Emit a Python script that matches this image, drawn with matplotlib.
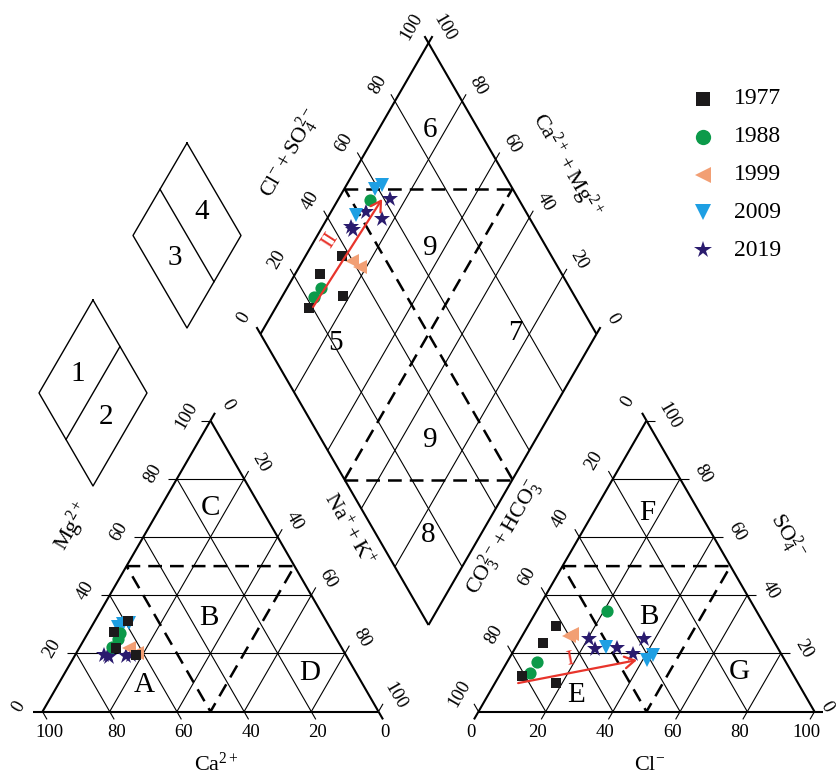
import math
import matplotlib
matplotlib.use('Agg')
import matplotlib.pyplot as plt

plt.rcParams['font.family'] = ['Liberation Serif', 'DejaVu Serif']
plt.rcParams['mathtext.fontset'] = 'custom'
plt.rcParams['mathtext.rm'] = 'Liberation Serif'
plt.rcParams['mathtext.it'] = 'Liberation Serif:italic'
plt.rcParams['mathtext.bf'] = 'Liberation Serif:bold'

# ---------------- sample chemistry (meq %) ----------------
years = ['1977', '1988', '1999', '2009', '2019']

ca_1977 = [59.0, 62.5, 67.0, 65.1]
mg_1977 = [31.0, 19.5, 22.0, 27.4]
nak_1977 = [10.0, 18.0, 11.0, 7.5]
hco3_1977 = [81.0, 69.0, 62.2, 72.0]
so4_1977 = [12.2, 23.6, 29.5, 10.0]
cl_1977 = [6.8, 7.4, 8.3, 18.0]

ca_1988 = [68.3, 65.0, 63.5]
mg_1988 = [22.2, 25.0, 27.0]
nak_1988 = [9.5, 10.0, 9.5]
hco3_1988 = [77.9, 74.1, 44.4]
so4_1988 = [13.3, 17.0, 34.6]
cl_1988 = [8.8, 8.9, 21.0]

ca_1999 = [63.3, 62.0]
mg_1999 = [21.9, 20.0]
nak_1999 = [14.8, 18.0]
hco3_1999 = [60.2, 59.0]
so4_1999 = [26.0, 26.5]
cl_1999 = [13.8, 14.5]

ca_2009 = [63.0, 61.0, 59.0]
mg_2009 = [29.0, 30.0, 30.5]
nak_2009 = [8.0, 9.0, 10.5]
hco3_2009 = [51.0, 41.0, 38.3]
so4_2009 = [22.2, 17.7, 19.5]
cl_2009 = [26.8, 41.3, 42.2]

ca_2019 = [72.0, 70.8, 70.8, 64.0, 65.5]
mg_2019 = [19.5, 19.5, 18.8, 19.5, 19.0]
nak_2019 = [8.5, 9.7, 10.4, 16.5, 15.5]
hco3_2019 = [54.6, 54.6, 47.8, 44.1, 38.2]
so4_2019 = [25.0, 21.5, 21.9, 19.8, 25.0]
cl_2019 = [20.4, 23.9, 30.3, 36.1, 36.8]

# evolution trends: anion triangle (I) and diamond (II)
trend1_so4 = [9.8, 17.7]
trend1_cl = [6.9, 38.3]
trend2_anion = [20.3, 59.4]     # Cl + SO4
trend2_cation = [89.0, 87.0]    # Ca + Mg

ticks = [0, 20, 40, 60, 80, 100]

samples = {
    '1977': (ca_1977, mg_1977, nak_1977, hco3_1977, so4_1977, cl_1977),
    '1988': (ca_1988, mg_1988, nak_1988, hco3_1988, so4_1988, cl_1988),
    '1999': (ca_1999, mg_1999, nak_1999, hco3_1999, so4_1999, cl_1999),
    '2009': (ca_2009, mg_2009, nak_2009, hco3_2009, so4_2009, cl_2009),
    '2019': (ca_2019, mg_2019, nak_2019, hco3_2019, so4_2019, cl_2019),
}

styles = {
    '1977': dict(marker='s', color='#1c1a1b', ms=7.8, lms=9.5, z=7),
    '1988': dict(marker='o', color='#0c9a4a', ms=8.8, lms=11.0, z=6),
    '1999': dict(marker='<', color='#f29f74', ms=10.5, lms=11.0, z=5),
    '2009': dict(marker='v', color='#1e9fe3', ms=10.5, lms=11.0, z=4),
    '2019': dict(marker='*', color='#2a1b6e', ms=12.0, lms=13.0, z=3),
}

# ---------------- layout (pixel space) ----------------
W, H = 837, 777
SIDE = 336.0
GAP = 100.0
SQ = math.sqrt(3) / 2
HT = SIDE * SQ
BX, BY = 428.5, 625.0                 # lower vertex of the diamond
BASE_Y = BY + GAP / 2 * math.sqrt(3)
CAT_X0 = BX - GAP / 2 - SIDE
AN_X0 = BX + GAP / 2

fig = plt.figure(figsize=(W / 100, H / 100), dpi=100)
ax = fig.add_axes([0, 0, 1, 1])
ax.set_xlim(0, W)
ax.set_ylim(H, 0)
ax.axis('off')

LW_OUT = 1.5
LW_IN = 0.8
TICK = 9.0
NUM_FS = 13.5
ZONE_FS = 21
TITLE_FS = 16


def tri_xy(x0, top, right):
    return (x0 + SIDE * (right + top / 2) / 100, BASE_Y - HT * top / 100)


def dia_xy(a, c):
    return (BX + 0.5 * SIDE * (a - c) / 100, BY - HT * (a + c) / 100)


def seg(p, q, lw, **kw):
    ax.plot([p[0], q[0]], [p[1], q[1]], color='black', lw=lw,
            solid_capstyle='butt', zorder=1, **kw)


def tick_label(p, d, off, rot, text, ext=TICK, lw=LW_IN):
    seg(p, (p[0] + d[0] * ext, p[1] + d[1] * ext), lw)
    tx = min(p[0] + off[0], W - 11)
    ax.text(tx, p[1] + off[1], text, fontsize=NUM_FS,
            rotation=rot, ha='center', va='center', rotation_mode='anchor')


def dashed(points):
    xs = [p[0] for p in points]
    ys = [p[1] for p in points]
    ax.plot(xs, ys, color='black', lw=1.8, ls=(0, (5.5, 3.2)), zorder=2)


# ---------------- cation triangle ----------------
C = lambda t, r: tri_xy(CAT_X0, t, r)
for v in ticks:
    lw = LW_OUT if v == 0 else LW_IN
    if v < 100:
        seg(C(v, 0), C(v, 100 - v), lw)
        seg(C(0, v), C(100 - v, v), lw)
        seg(C(100 - v, 0), C(0, 100 - v), lw)
    tick_label(C(v, 0), (-1, 0), (-24, -5), 60, str(v), lw=lw)
    tick_label(C(100 - v, v), (0.5, -SQ), (17, -16), -60, str(v), lw=lw)
    tick_label(C(0, 100 - v), (0.5, SQ), (6.5, 21), 0, str(v), lw=lw)

dashed([C(50, 0), C(50, 50), C(0, 50), C(50, 0)])

# ---------------- anion triangle ----------------
A = lambda t, r: tri_xy(AN_X0, t, r)
for v in ticks:
    lw = LW_OUT if v == 0 else LW_IN
    if v < 100:
        seg(A(v, 0), A(v, 100 - v), lw)
        seg(A(0, v), A(100 - v, v), lw)
        seg(A(100 - v, 0), A(0, 100 - v), lw)
    tick_label(A(v, 100 - v), (1, 0), (23, -5), -60, str(v), lw=lw)
    tick_label(A(0, v), (-0.5, SQ), (-8, 21), 0, str(v), lw=lw)
    tick_label(A(100 - v, 0), (-0.5, -SQ), (-18.5, -18.5), 60, str(v), lw=lw)

dashed([A(50, 0), A(50, 50), A(0, 50), A(50, 0)])

# ---------------- diamond ----------------
for v in ticks:
    lw = LW_OUT if v in (0, 100) else LW_IN
    seg(dia_xy(v, 0), dia_xy(v, 100), lw)
    seg(dia_xy(0, v), dia_xy(100, v), lw)
    tick_label(dia_xy(v, 100), (-0.5, -SQ), (-17, -16.5), 60, str(v), ext=8, lw=lw)
    tick_label(dia_xy(100, v), (0.5, -SQ), (16, -15.5), -60, str(v), ext=8, lw=lw)

dashed([dia_xy(50, 100), dia_xy(100, 50)])
dashed([dia_xy(0, 50), dia_xy(50, 0)])
dashed([dia_xy(50, 0), dia_xy(50, 100)])
dashed([dia_xy(0, 50), dia_xy(100, 50)])

# ---------------- zone labels ----------------
for s, t, r in [('C', 70.0, 15.1), ('B', 32.2, 33.5), ('A', 9.2, 25.6), ('D', 13.3, 73.0)]:
    x, y = C(t, r)
    ax.text(x, y, s, fontsize=ZONE_FS, ha='center', va='center')
for s, t, r in [('F', 68.3, 16.0), ('B', 32.5, 34.5), ('E', 5.7, 26.2), ('G', 13.6, 70.7)]:
    x, y = A(t, r)
    ax.text(x, y, s, fontsize=ZONE_FS, ha='center', va='center')
for s, a, c in [('6', 85.5, 84.6), ('9', 65.2, 64.4), ('5', 20.9, 76.0),
                ('7', 75.9, 24.4), ('9', 32.2, 31.4), ('8', 15.3, 15.6)]:
    x, y = dia_xy(a, c)
    ax.text(x, y, s, fontsize=ZONE_FS, ha='center', va='center')

# ---------------- axis titles ----------------
ax.text(216, 764, r'$\mathrm{Ca^{2+}}$', fontsize=TITLE_FS, ha='center', va='center')
ax.text(650, 765, r'$\mathrm{Cl^{-}}$', fontsize=TITLE_FS, ha='center', va='center')
ax.text(73, 527, r'$\mathrm{Mg^{2+}}$', fontsize=TITLE_FS, ha='center', va='center',
        rotation=60, rotation_mode='anchor')
ax.text(348, 530, r'$\mathrm{Na^{+}+K^{+}}$', fontsize=TITLE_FS, ha='center', va='center',
        rotation=-60, rotation_mode='anchor')
ax.text(504, 537, r'$\mathrm{CO_3^{2-}+HCO_3^{-}}$', fontsize=TITLE_FS, ha='center',
        va='center', rotation=60, rotation_mode='anchor')
ax.text(788, 536, r'$\mathrm{SO_4^{2-}}$', fontsize=TITLE_FS, ha='center', va='center',
        rotation=-60, rotation_mode='anchor')
ax.text(290, 153, r'$\mathrm{Cl^{-}+SO_4^{2-}}$', fontsize=TITLE_FS, ha='center',
        va='center', rotation=60, rotation_mode='anchor')
ax.text(566, 165, r'$\mathrm{Ca^{2+}+Mg^{2+}}$', fontsize=TITLE_FS, ha='center',
        va='center', rotation=-60, rotation_mode='anchor')

# ---------------- samples ----------------
for yr in years:
    ca, mg, nak, hco3, so4, cl = samples[yr]
    st = styles[yr]
    kw = dict(ls='none', marker=st['marker'], ms=st['ms'], mfc=st['color'],
              mec=st['color'], mew=0, zorder=st['z'])
    cx, cy = zip(*[tri_xy(CAT_X0, m, n) for m, n in zip(mg, nak)])
    ax.plot(cx, cy, **kw)
    axx, ayy = zip(*[tri_xy(AN_X0, s, c) for s, c in zip(so4, cl)])
    ax.plot(axx, ayy, **kw)
    dx, dy = zip(*[dia_xy(s + c, a + m) for s, c, a, m in zip(so4, cl, ca, mg)])
    ax.plot(dx, dy, **kw)

# ---------------- trend arrows ----------------
RED = '#e8342b'


def trend(p, q, label, lab_pos, fs):
    ax.annotate('', xy=q, xytext=p,
                arrowprops=dict(arrowstyle='->,head_length=0.6,head_width=0.35',
                                color=RED, lw=1.6, shrinkA=0, shrinkB=0,
                                mutation_scale=12), zorder=9)
    ang = math.degrees(math.atan2(p[1] - q[1], q[0] - p[0]))
    ax.text(lab_pos[0], lab_pos[1], label, color=RED, fontsize=fs, rotation=ang,
            ha='center', va='center', rotation_mode='anchor', zorder=10)


trend(tri_xy(AN_X0, trend1_so4[0], trend1_cl[0]),
      tri_xy(AN_X0, trend1_so4[1], trend1_cl[1]),
      'I', tri_xy(AN_X0, 17.7, 18.4), 16)
trend(dia_xy(trend2_anion[0], trend2_cation[0]),
      dia_xy(trend2_anion[1], trend2_cation[1]),
      'II', dia_xy(37.1, 95.2), 16)

# ---------------- key diamonds ----------------
def key_diamond(cx, cy, hw, hh, split_from_left):
    top, bot = (cx, cy - hh), (cx, cy + hh)
    left, right = (cx - hw, cy), (cx + hw, cy)
    xs = [top[0], right[0], bot[0], left[0], top[0]]
    ys = [top[1], right[1], bot[1], left[1], top[1]]
    ax.plot(xs, ys, color='black', lw=1.0, zorder=1)
    if split_from_left:
        p = ((top[0] + left[0]) / 2, (top[1] + left[1]) / 2)
        q = ((bot[0] + right[0]) / 2, (bot[1] + right[1]) / 2)
    else:
        p = ((top[0] + right[0]) / 2, (top[1] + right[1]) / 2)
        q = ((bot[0] + left[0]) / 2, (bot[1] + left[1]) / 2)
    ax.plot([p[0], q[0]], [p[1], q[1]], color='black', lw=1.0, zorder=1)


key_diamond(187, 235.5, 54, 92.5, True)
key_diamond(93, 393, 54, 93, False)
ax.text(202, 212, '4', fontsize=ZONE_FS, ha='center', va='center')
ax.text(175, 258, '3', fontsize=ZONE_FS, ha='center', va='center')
ax.text(78, 374, '1', fontsize=ZONE_FS, ha='center', va='center')
ax.text(106, 417, '2', fontsize=ZONE_FS, ha='center', va='center')

# ---------------- legend ----------------
for i, yr in enumerate(years):
    st = styles[yr]
    ly = 99 + 37.8 * i
    ax.plot([703], [ly], ls='none', marker=st['marker'], ms=st['lms'],
            mfc=st['color'], mec=st['color'], mew=0, zorder=5)
    ax.text(734, ly, yr, fontsize=17, ha='left', va='center')

fig.savefig('out.png', dpi=100)
